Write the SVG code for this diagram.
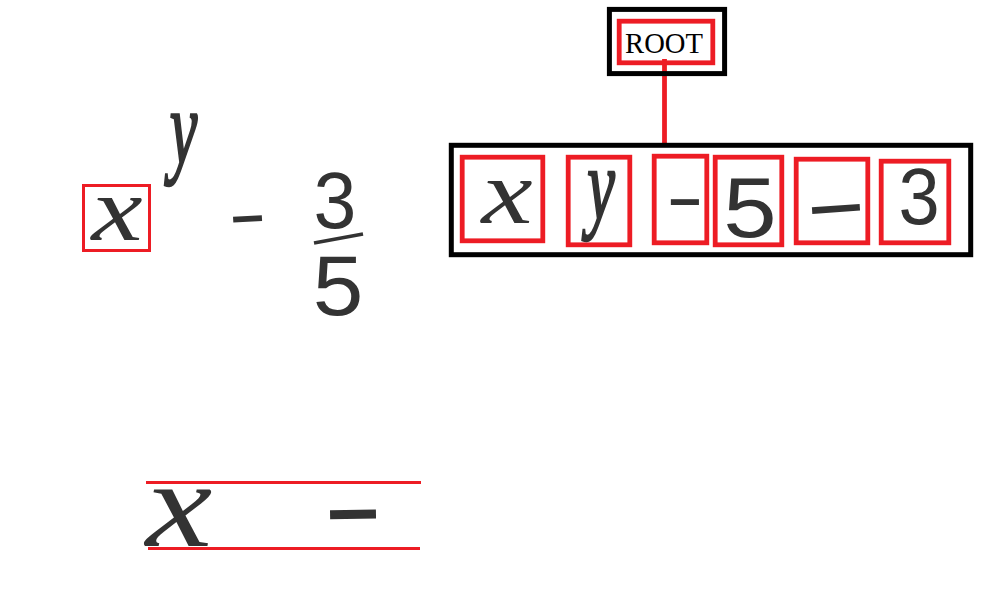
<svg xmlns="http://www.w3.org/2000/svg" width="999" height="600" viewBox="0 0 999 600">
<style>
.blk{fill:none;stroke:#000;stroke-width:5}
.red{fill:none;stroke:#ed1c24;stroke-width:4.8}
.thin{stroke-width:3}
.ln{stroke:#ed1c24;stroke-width:3;fill:none}
.hw{fill:#333;text-anchor:middle;font-size:100px}
.var{font-family:"Liberation Serif",serif;font-style:italic}
.wide{stroke:#333;stroke-width:2.5}
.num{font-family:"Liberation Sans",sans-serif}
.root{font-family:"Liberation Serif",serif;font-size:28.6px;fill:#000;text-anchor:middle}
</style>
<rect width="999" height="600" fill="#fff"/>
<g id="formula">
<rect class="red thin" x="83.5" y="185.5" width="66" height="65"/>
<text class="hw var" transform="translate(117,240) scale(1.15,.92)">x</text>
<text class="hw var wide" transform="translate(183.5,163) scale(.62,1.05)">y</text>
<text class="hw num" transform="translate(247.5,218) rotate(-3) scale(1.18,.75)" y="27.8">-</text>
<text class="hw num" transform="translate(335,228) scale(.77,.8)">3</text>
<line x1="314" y1="243" x2="363" y2="234" stroke="#333" stroke-width="3.5"/>
<text class="hw num" transform="translate(338,315) scale(.91,.86)">5</text>
</g>
<g id="connectors">
<line x1="664.5" y1="59" x2="664.5" y2="145" stroke="#ed1c24" stroke-width="4.8"/>
</g>
<g id="root">
<rect class="blk" x="609.4" y="9.4" width="115.2" height="64.2"/>
<rect class="red" x="619.2" y="21.2" width="93.6" height="41.6"/>
<text class="root" x="664" y="53">ROOT</text>
</g>
<g id="sequence">
<rect class="blk" x="451.3" y="145.3" width="519.4" height="109.4"/>
</g>
<g id="sym-x">
<rect class="red" x="462.2" y="157.2" width="80.6" height="83.6"/>
<text class="hw var" transform="translate(507,223) scale(1.15,.92)">x</text>
</g>
<g id="sym-y">
<rect class="red" x="568.2" y="157.2" width="61.6" height="87.6"/>
<text class="hw var wide" transform="translate(601,219) scale(.62,1.01)">y</text>
</g>
<g id="sym-minus1">
<rect class="red" x="654.2" y="156.2" width="52.6" height="86.6"/>
<text class="hw num" transform="translate(685,201) scale(1.15,.75)" y="27.8">-</text>
</g>
<g id="sym-5">
<rect class="red" x="715.2" y="157.2" width="66.6" height="87.6"/>
<text class="hw num" transform="translate(750,237) scale(.96,.86)">5</text>
</g>
<g id="sym-minus2">
<rect class="red" x="796.2" y="159.2" width="71.6" height="83.6"/>
<text class="hw num" transform="translate(836,208) rotate(-4) scale(1.96,.85)" y="27.8">-</text>
</g>
<g id="sym-3">
<rect class="red" x="881.2" y="161.2" width="67.6" height="81.6"/>
<text class="hw num" transform="translate(919,224) scale(.74,.8)">3</text>
</g>
<g id="line-segment">
<line class="ln" x1="146" y1="482.5" x2="421" y2="482.5"/>
<line class="ln" x1="148" y1="548.5" x2="420" y2="548.5"/>
<text class="hw var" transform="translate(179,546) scale(1.5,1.22)">x</text>
<text class="hw num" transform="translate(353,513) rotate(-1) scale(1.88,1.14)" y="27.8">-</text>
</g>
</svg>
